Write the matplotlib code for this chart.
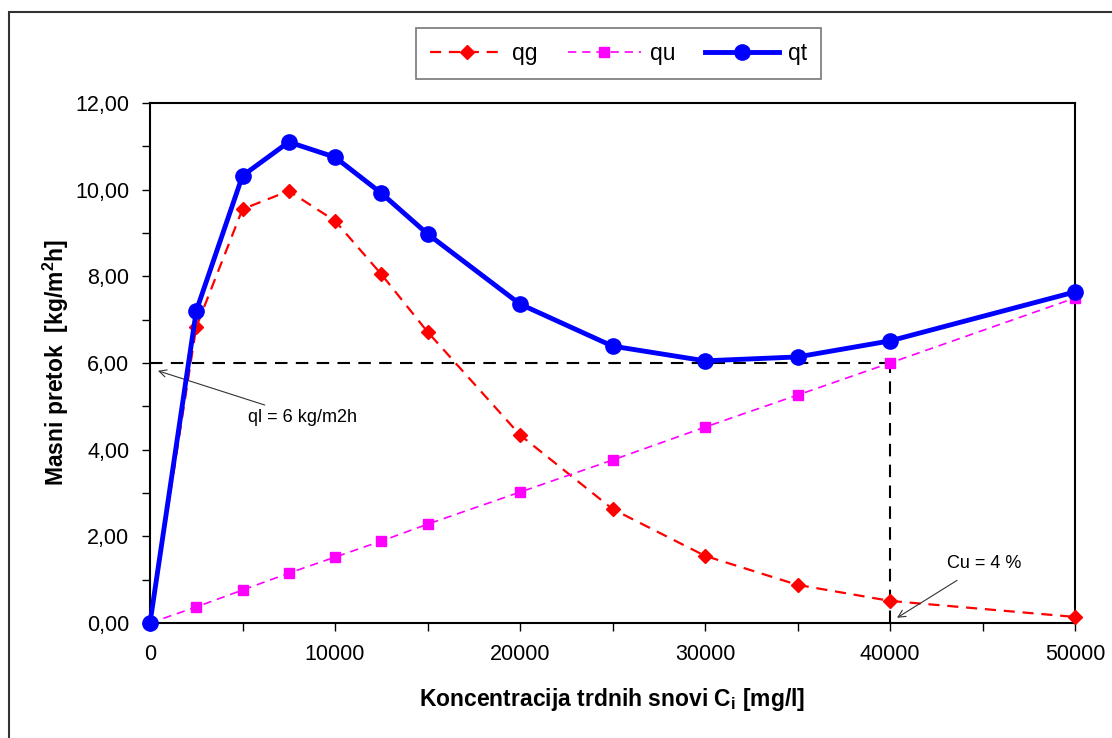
import matplotlib
matplotlib.use("Agg")
import matplotlib.pyplot as plt
from matplotlib.patches import Rectangle
from matplotlib.ticker import MultipleLocator, FuncFormatter

plt.rcParams['font.family'] = ['Liberation Sans', 'DejaVu Sans']

conc = [0, 2500, 5000, 7500, 10000, 12500, 15000, 20000, 25000, 30000, 35000, 40000, 50000]
qg = [0.0, 6.83, 9.55, 9.97, 9.28, 8.05, 6.72, 4.34, 2.63, 1.55, 0.88, 0.51, 0.14]
qu = [0.0, 0.37, 0.76, 1.15, 1.52, 1.89, 2.28, 3.02, 3.76, 4.52, 5.26, 6.00, 7.50]
qt = [0.0, 7.20, 10.32, 11.10, 10.75, 9.92, 8.98, 7.36, 6.39, 6.05, 6.14, 6.51, 7.64]

ql_level = 6.0
cu_conc = 40000

fig = plt.figure(figsize=(11.12, 7.38), dpi=100)
ax = fig.add_axes([150/1112, 1-623/738, (1075-150)/1112, (623-103)/738])

# outer frame
fig.patches.append(Rectangle((9/1112, -0.05), 1.2, 1.05 - 12/738, transform=fig.transFigure,
                             fill=False, edgecolor='#333333', linewidth=1.5, zorder=0))

# reference lines
ax.plot([0, cu_conc], [ql_level, ql_level], color='black', linestyle=(0, (6, 4)), linewidth=1.5, zorder=2)
ax.plot([cu_conc, cu_conc], [0, ql_level], color='black', linestyle=(0, (6, 4)), linewidth=1.5, zorder=2)

ax.plot(conc, qg, color='#ff0000', linestyle=(0, (5, 3.5)), linewidth=1.6, marker='D',
        markersize=7, label='qg', zorder=3)
ax.plot(conc, qu, color='#ff00ff', linestyle=(0, (5, 3.5)), linewidth=1.2, marker='s',
        markersize=7, label='qu', zorder=3)
ax.plot(conc, qt, color='#0000ff', linestyle='-', linewidth=3.5, marker='o',
        markersize=11, label='qt', zorder=4)

ax.set_xlim(0, 50000)
ax.set_ylim(0, 12)
ax.xaxis.set_major_locator(MultipleLocator(10000))
ax.xaxis.set_minor_locator(MultipleLocator(5000))
ax.yaxis.set_major_locator(MultipleLocator(2))
ax.yaxis.set_minor_locator(MultipleLocator(1))
ax.yaxis.set_major_formatter(FuncFormatter(lambda v, p: f"{v:.2f}".replace('.', ',')))
ax.tick_params(axis='both', which='major', direction='out', length=6, width=1, labelsize=15.5, pad=9)
ax.tick_params(axis='both', which='minor', direction='out', length=6, width=1)
for s in ax.spines.values():
    s.set_linewidth(1.5)
for ln in ax.lines:
    ln.set_clip_on(False)

ax.set_xlabel('Koncentracija trdnih snovi C$_\\mathregular{i}$ [mg/l]', fontsize=16.5, fontweight='bold', labelpad=15)
ax.set_ylabel('Masni pretok  [kg/m$^\\mathregular{2}$h]', fontsize=16.5, fontweight='bold', labelpad=3)

ax.annotate('ql = 6 kg/m2h', xy=(430, 5.82), xytext=(5300, 4.75), fontsize=13,
            va='center', ha='left',
            arrowprops=dict(arrowstyle='->', color='#333333', lw=0.8, shrinkA=2, shrinkB=0))
ax.annotate('Cu = 4 %', xy=(40380, 0.12), xytext=(43100, 1.38), fontsize=13,
            va='center', ha='left',
            arrowprops=dict(arrowstyle='->', color='#333333', lw=0.8, shrinkA=8, shrinkB=0))

leg = fig.legend(loc='center', bbox_to_anchor=((411+826)/2/1112, 1-53.5/738), ncol=3,
                 fontsize=16.5, frameon=True, fancybox=False, edgecolor='#555555',
                 handlelength=3.2, columnspacing=1.3, borderpad=0.6, handletextpad=0.4)
leg.get_frame().set_linewidth(1.2)

fig.savefig('out.png', dpi=100)
